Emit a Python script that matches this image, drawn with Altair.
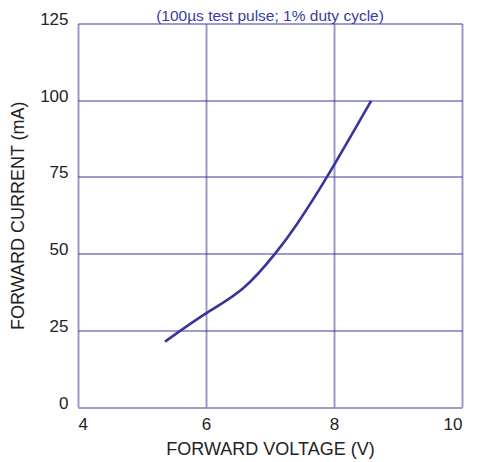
import altair as alt
import pandas as pd

voltage = [5.36, 6.0, 6.58, 7.08, 7.42, 7.89, 8.58]
current = [21.3, 30.5, 38.7, 50.0, 59.6, 75.0, 99.8]
x_ticks = [4, 6, 8, 10]
y_ticks = [0, 25, 50, 75, 100, 125]
subtitle = ["(100\u00b5s test pulse; 1% duty cycle)"]

df = pd.DataFrame({"v": voltage, "i": current})
tdf = pd.DataFrame({"t": subtitle})

FONT = "Liberation Sans"

line = alt.Chart(df).mark_line(
    color="#37349a", strokeWidth=2.6, interpolate="natural"
).encode(
    x=alt.X("v:Q", scale=alt.Scale(domain=[4, 10], nice=False, zero=False),
            axis=alt.Axis(values=x_ticks, title="FORWARD VOLTAGE (V)", grid=True,
                          gridColor="#9c98cc", gridWidth=2, gridOpacity=1,
                          domain=False, ticks=False, labelFontSize=17,
                          labelPadding=9, titleFontSize=18, titlePadding=8,
                          labelFont=FONT, titleFont=FONT, labelColor="#222",
                          titleColor="#222", titleFontWeight="normal")),
    y=alt.Y("i:Q", scale=alt.Scale(domain=[0, 125], nice=False),
            axis=alt.Axis(values=y_ticks, title="FORWARD CURRENT (mA)", grid=True,
                          gridColor="#3b3a9c", gridWidth=1.2, gridOpacity=1,
                          domain=False, ticks=False, labelFontSize=17,
                          labelPadding=10, labelBaseline="alphabetic", labelOffset=1,
                          titleFontSize=18, titlePadding=12,
                          labelFont=FONT, titleFont=FONT, labelColor="#222",
                          titleColor="#222", titleFontWeight="normal")),
)

title = alt.Chart(tdf).mark_text(
    font=FONT, fontSize=15.5, color="#3c3aa6", baseline="alphabetic", align="center"
).encode(
    x=alt.value(192), y=alt.value(-3), text="t:N"
)

chart = alt.layer(line, title).properties(
    width=384, height=383.5,
    autosize=alt.AutoSizeParams(type="none"),
    padding={"left": 70, "top": 15.5, "right": 15, "bottom": 60},
).configure_view(stroke=None)

chart.save("out.html", embed_options={"renderer": "svg", "actions": False})
